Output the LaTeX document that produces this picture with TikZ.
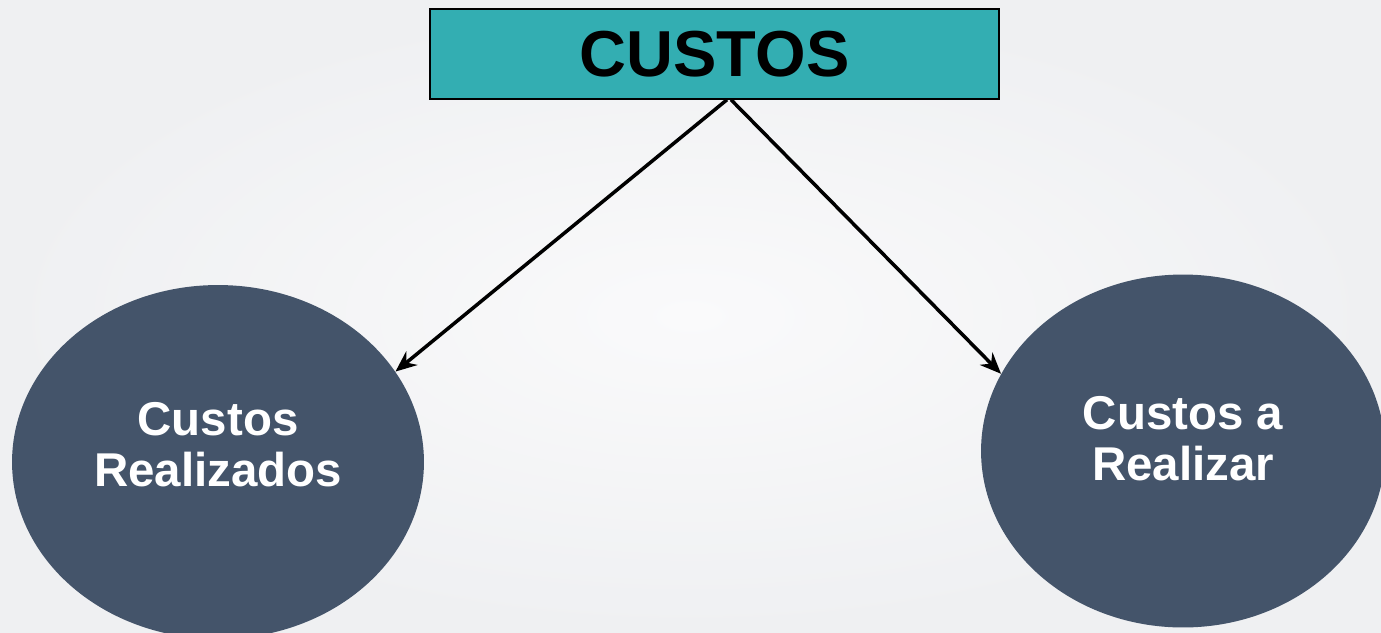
\documentclass[tikz,border=0pt]{standalone}
\usepackage{fontspec}
\setmainfont{Liberation Sans}
\usetikzlibrary{arrows.meta,shapes.geometric}
\definecolor{custosteal}{RGB}{51,174,178}
\definecolor{custosslate}{RGB}{68,84,106}
\definecolor{bgedge}{RGB}{239,240,242}
\definecolor{bgmid}{RGB}{250,250,251}

\begin{document}
\begin{tikzpicture}[x=0.02cm,y=-0.02cm]
        \tikzset{head/.style={draw=black,line width=0.8pt,fill=custosteal,minimum width=11.38cm,minimum height=1.8cm,font=\bfseries\fontsize{37}{42}\selectfont},
                 blob/.style={ellipse,fill=custosslate,inner sep=0pt},
                 blobtext/.style={align=center,text=white,font=\bfseries\fontsize{27}{29}\selectfont},
                 link/.style={line width=2pt,-{Stealth[length=12pt,width=10pt]}}};
        \useasboundingbox (0,0) rectangle (1381,632);
        \clip (0,0) rectangle (1381,632);
        \shade[inner color=bgmid,outer color=bgedge] (0,0) rectangle (1381,632);
        \node[head] (custos) at (714.5,54) {CUSTOS};
        \node[blob,minimum width=8.24cm,minimum height=7.08cm] (realizados) at (218,462) {};
        \node[blob,minimum width=8.08cm,minimum height=7.06cm] (arealizar) at (1183,451) {};
        \node[blobtext] (realizadostxt) at ([yshift=0.34cm]realizados.center) {Custos\\Realizados};
        \node[blobtext] (arealizartxt) at ([yshift=0.24cm]arealizar.center) {Custos a\\Realizar};
        \draw[link] ([xshift=0.25cm]custos.south) -- (realizados.27);
        \draw[link] ([xshift=0.33cm]custos.south) -- (arealizar.157);
    \end{tikzpicture}
\end{document}
